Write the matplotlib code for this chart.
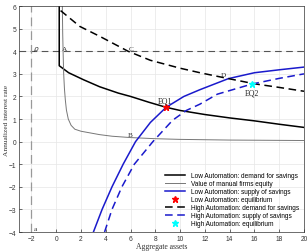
import matplotlib
matplotlib.use('Agg')
import matplotlib.pyplot as plt

# ---- data ----
# Low automation: demand for savings (vertical segment then decreasing)
low_demand_x = [0.24, 0.24, 1.0, 2.2, 3.5, 5.0, 6.0, 7.5, 8.87, 10.0, 12.0, 14.0, 16.0, 18.0, 20.0]
low_demand_y = [6.0, 3.36, 3.05, 2.74, 2.43, 2.15, 2.0, 1.74, 1.52, 1.38, 1.2, 1.05, 0.92, 0.77, 0.63]

# Value of manual firms equity
equity_x = [0.49, 0.52, 0.56, 0.6, 0.66, 0.73, 0.82, 0.97, 1.2, 1.5, 2.0, 2.7, 3.5, 4.5, 6.0, 8.0, 10.0, 14.0, 20.0]
equity_y = [6.0, 4.8, 3.8, 3.0, 2.35, 1.86, 1.4, 1.0, 0.72, 0.55, 0.46, 0.39, 0.31, 0.24, 0.18, 0.13, 0.1, 0.07, 0.05]

# Low automation: supply of savings
low_supply_x = [3.0, 3.7, 4.5, 5.4, 6.4, 7.6, 8.87, 10.3, 11.6, 13.9, 16.0, 18.0, 20.0]
low_supply_y = [-4.0, -3.0, -2.0, -1.0, 0.0, 0.85, 1.52, 2.0, 2.3, 2.79, 3.05, 3.18, 3.3]

# High automation: demand for savings
high_demand_x = [0.35, 1.9, 3.55, 5.8, 7.6, 10.0, 11.6, 13.9, 16.0, 18.0, 20.0]
high_demand_y = [5.8, 5.1, 4.65, 4.0, 3.6, 3.25, 3.05, 2.79, 2.56, 2.4, 2.23]

# High automation: supply of savings
high_supply_x = [3.9, 4.5, 5.3, 6.3, 7.8, 9.4, 10.5, 11.6, 13.0, 15.8, 18.0, 20.0]
high_supply_y = [-4.0, -3.0, -2.0, -1.0, 0.0, 0.95, 1.38, 1.66, 2.1, 2.55, 2.8, 3.0]

eq1 = (8.87, 1.52)
eq2 = (15.8, 2.55)
rho = 4.0
borrow_limit = -2.0

xticks = list(range(-2, 21, 2))
yticks = list(range(-4, 7))

serif = ['Liberation Serif', 'DejaVu Serif']
sans = ['Liberation Sans', 'DejaVu Sans']
blue = '#1a1acc'

fig = plt.figure(figsize=(3.08, 2.53), dpi=100)
ax = fig.add_axes([0.062, 0.079, 0.925, 0.893])

ax.grid(True, color='#e6e6e6', linewidth=0.5)
ax.set_axisbelow(True)

ax.axhline(rho, color='#555555', linestyle=(0, (6, 4)), linewidth=0.8)
ax.axvline(borrow_limit, color='#999999', linestyle=(0, (7, 4)), linewidth=0.9)

ax.plot(low_demand_x, low_demand_y, color='black', linewidth=1.1,
        label='Low Automation: demand for savings')
ax.plot(equity_x, equity_y, color='#777777', linewidth=0.7,
        label='Value of manual firms equity')
ax.plot(low_supply_x, low_supply_y, color=blue, linewidth=1.1,
        label='Low Automation: supply of savings')
ax.plot(*eq1, marker='*', color='red', markersize=5, linestyle='none',
        label='Low Automation: equilibrium')
ax.plot(high_demand_x, high_demand_y, color='black', linewidth=1.1,
        linestyle=(0, (5, 3)), label='High Automation: demand for savings')
ax.plot(high_supply_x, high_supply_y, color=blue, linewidth=1.1,
        linestyle=(0, (5, 3)), label='High Automation: supply of savings')
ax.plot(*eq2, marker='*', color='cyan', markersize=5, linestyle='none',
        label='High Automation: equilibrium')

# point labels
txt = dict(fontsize=5.2, family=serif, color='#333333')
ax.text(-1.85, 4.07, r'$\rho$', fontsize=5.2, color='#333333')
ax.text(0.45, 4.07, 'A', **txt)
ax.text(5.85, 4.07, 'C', **txt)
ax.text(13.3, 2.9, 'D', **txt)
ax.text(5.75, 0.24, 'B', **txt)
ax.text(-1.8, -3.92, 'a', **txt)
ax.text(8.2, 1.72, 'EQ1', fontsize=5.6, family=serif, color='#222222')
ax.text(15.2, 2.1, 'EQ2', fontsize=5.6, family=serif, color='#222222')

ax.set_xlim(-3, 20)
ax.set_ylim(-4, 6)
ax.set_xticks(xticks)
ax.set_yticks(yticks)
ax.tick_params(direction='in', labelsize=4.8, length=2, width=0.5,
               colors='#333333', pad=2)
for lab in ax.get_xticklabels() + ax.get_yticklabels():
    lab.set_family(sans)
for spine in ax.spines.values():
    spine.set_linewidth(0.5)
    spine.set_color('#333333')

ax.set_xlabel('Aggregate assets', fontsize=5.5, family=serif, color='#333333')
ax.set_ylabel('Annualized interest rate', fontsize=5.3, family=serif, color='#333333')
ax.xaxis.set_label_coords(0.5, -0.045)
ax.yaxis.set_label_coords(-0.037, 0.5)

leg = ax.legend(loc='lower right', frameon=False,
                handlelength=3.2, labelspacing=0.15, borderaxespad=0.4,
                prop={'family': sans, 'size': 4.7})

fig.savefig('out.png', dpi=100)
